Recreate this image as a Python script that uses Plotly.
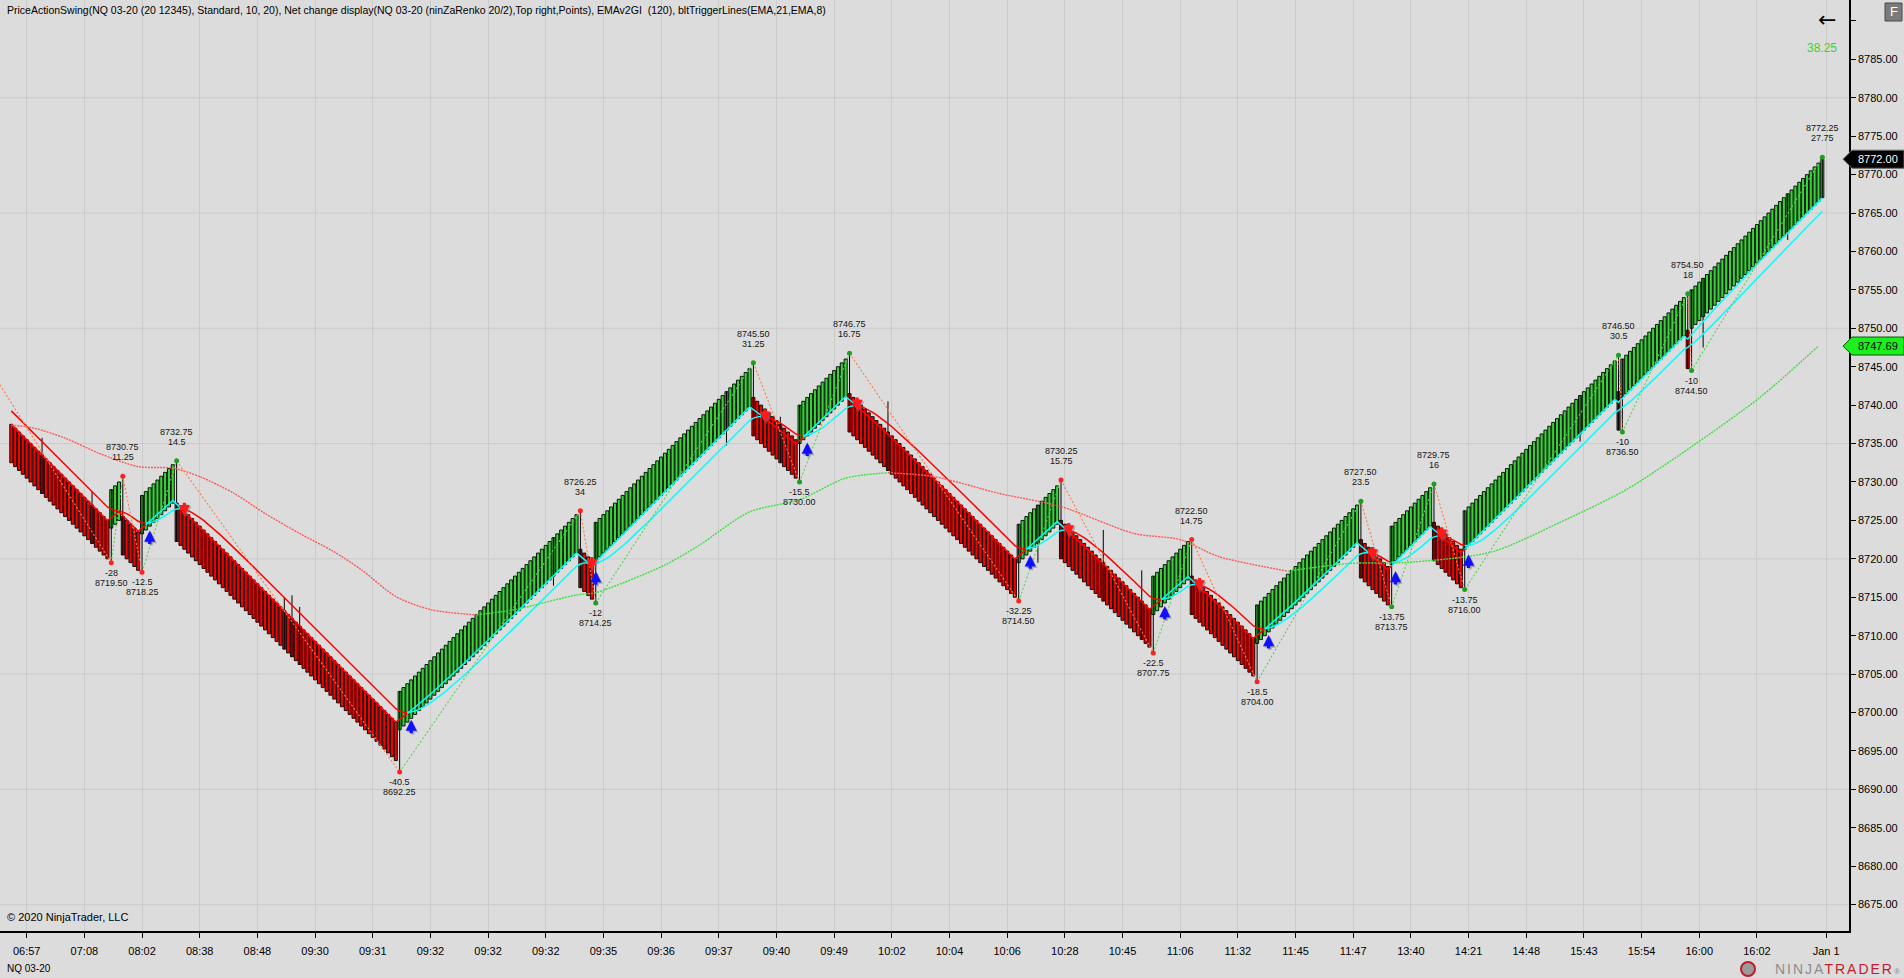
import plotly.graph_objects as go

# ninZaRenko 20/2 on NQ: brick body is 20 ticks (5 points), trend bars step 2 ticks
brick = 5.0

bar_close = [
    # down leg from the session start
    8732.5, 8732.0, 8731.5, 8731.0, 8730.5, 8730.0, 8729.5, 8729.0, 8728.5, 8728.0,
    8727.5, 8727.0, 8726.5, 8726.0, 8725.5, 8725.0, 8724.5, 8724.0, 8723.5, 8723.0,
    8722.5, 8722.0, 8721.5, 8721.0, 8720.5, 8720.0,
    8729.0, 8729.5, 8730.0,
    8720.5, 8720.0, 8719.5, 8719.0, 8718.5,
    8728.25, 8728.75, 8729.25, 8729.75, 8730.25, 8730.75, 8731.25, 8731.75, 8732.25,
    # long slide to 8692.25
    8722.25, 8721.75, 8721.25, 8720.75, 8720.25, 8719.75, 8719.25, 8718.75, 8718.25, 8717.75,
    8717.25, 8716.75, 8716.25, 8715.75, 8715.25, 8714.75, 8714.25, 8713.75, 8713.25, 8712.75,
    8712.25, 8711.75, 8711.25, 8710.75, 8710.25, 8709.75, 8709.25, 8708.75, 8708.25, 8707.75,
    8707.25, 8706.75, 8706.25, 8705.75, 8705.25, 8704.75, 8704.25, 8703.75, 8703.25, 8702.75,
    8702.25, 8701.75, 8701.25, 8700.75, 8700.25, 8699.75, 8699.25, 8698.75, 8698.25, 8697.75,
    8697.25, 8696.75, 8696.25, 8695.75, 8695.25, 8694.75, 8694.25, 8693.75,
    # rally to 8726.25
    8702.75, 8703.25, 8703.75, 8704.25, 8704.75, 8705.25, 8705.75, 8706.25, 8706.75, 8707.25,
    8707.75, 8708.25, 8708.75, 8709.25, 8709.75, 8710.25, 8710.75, 8711.25, 8711.75, 8712.25,
    8712.75, 8713.25, 8713.75, 8714.25, 8714.75, 8715.25, 8715.75, 8716.25, 8716.75, 8717.25,
    8717.75, 8718.25, 8718.75, 8719.25, 8719.75, 8720.25, 8720.75, 8721.25, 8721.75, 8722.25,
    8722.75, 8723.25, 8723.75, 8724.25, 8724.75, 8725.25, 8725.75,
    8716.25, 8715.75, 8715.25, 8714.75,
    # rally to 8745.50
    8724.75, 8725.25, 8725.75, 8726.25, 8726.75, 8727.25, 8727.75, 8728.25, 8728.75, 8729.25,
    8729.75, 8730.25, 8730.75, 8731.25, 8731.75, 8732.25, 8732.75, 8733.25, 8733.75, 8734.25,
    8734.75, 8735.25, 8735.75, 8736.25, 8736.75, 8737.25, 8737.75, 8738.25, 8738.75, 8739.25,
    8739.75, 8740.25, 8740.75, 8741.25, 8741.75, 8742.25, 8742.75, 8743.25, 8743.75, 8744.25,
    8744.75,
    8736.0, 8735.5, 8735.0, 8734.5, 8734.0, 8733.5, 8733.0, 8732.5, 8732.0, 8731.5,
    8731.0, 8730.5,
    8740.0, 8740.5, 8741.0, 8741.5, 8742.0, 8742.5, 8743.0, 8743.5, 8744.0, 8744.5,
    8745.0, 8745.5, 8746.0,
    # slide to 8714.50
    8736.5, 8736.0, 8735.5, 8735.0, 8734.5, 8734.0, 8733.5, 8733.0, 8732.5, 8732.0,
    8731.5, 8731.0, 8730.5, 8730.0, 8729.5, 8729.0, 8728.5, 8728.0, 8727.5, 8727.0,
    8726.5, 8726.0, 8725.5, 8725.0, 8724.5, 8724.0, 8723.5, 8723.0, 8722.5, 8722.0,
    8721.5, 8721.0, 8720.5, 8720.0, 8719.5, 8719.0, 8718.5, 8718.0, 8717.5, 8717.0,
    8716.5, 8716.0, 8715.5, 8715.0,
    8724.5, 8725.0, 8725.5, 8726.0, 8726.5, 8727.0, 8727.5, 8728.0, 8728.5, 8729.0,
    8729.5,
    8720.0, 8719.5, 8719.0, 8718.5, 8718.0, 8717.5, 8717.0, 8716.5, 8716.0, 8715.5,
    8715.0, 8714.5, 8714.0, 8713.5, 8713.0, 8712.5, 8712.0, 8711.5, 8711.0, 8710.5,
    8710.0, 8709.5, 8709.0, 8708.5,
    8717.75, 8718.25, 8718.75, 8719.25, 8719.75, 8720.25, 8720.75, 8721.25, 8721.75, 8722.25,
    8712.75, 8712.25, 8711.75, 8711.25, 8710.75, 8710.25, 8709.75, 8709.25, 8708.75, 8708.25,
    8707.75, 8707.25, 8706.75, 8706.25, 8705.75, 8705.25, 8704.75,
    # rally to 8727.50
    8714.0, 8714.5, 8715.0, 8715.5, 8716.0, 8716.5, 8717.0, 8717.5, 8718.0, 8718.5,
    8719.0, 8719.5, 8720.0, 8720.5, 8721.0, 8721.5, 8722.0, 8722.5, 8723.0, 8723.5,
    8724.0, 8724.5, 8725.0, 8725.5, 8726.0, 8726.5, 8727.0,
    8717.5, 8717.0, 8716.5, 8716.0, 8715.5, 8715.0, 8714.5, 8714.0,
    8724.25, 8724.75, 8725.25, 8725.75, 8726.25, 8726.75, 8727.25, 8727.75, 8728.25, 8728.75,
    8729.25,
    8719.75, 8719.25, 8718.75, 8718.25, 8717.75, 8717.25, 8716.75, 8716.25,
    # afternoon rally
    8726.25, 8726.75, 8727.25, 8727.75, 8728.25, 8728.75, 8729.25, 8729.75, 8730.25, 8730.75,
    8731.25, 8731.75, 8732.25, 8732.75, 8733.25, 8733.75, 8734.25, 8734.75, 8735.25, 8735.75,
    8736.25, 8736.75, 8737.25, 8737.75, 8738.25, 8738.75, 8739.25, 8739.75, 8740.25, 8740.75,
    8741.25, 8741.75, 8742.25, 8742.75, 8743.25, 8743.75, 8744.25, 8744.75, 8745.25, 8745.75,
    8736.75,
    8746.0, 8746.5, 8747.0, 8747.5, 8748.0, 8748.5, 8749.0, 8749.5, 8750.0, 8750.5,
    8751.0, 8751.5, 8752.0, 8752.5, 8753.0, 8753.5, 8754.0,
    8744.75,
    8755.0, 8755.5, 8756.0, 8756.5, 8757.0, 8757.5, 8758.0, 8758.5, 8759.0, 8759.5,
    8760.0, 8760.5, 8761.0, 8761.5, 8762.0, 8762.5, 8763.0, 8763.5, 8764.0, 8764.5,
    8765.0, 8765.5, 8766.0, 8766.5, 8767.0, 8767.5, 8768.0, 8768.5, 8769.0, 8769.5,
    8770.0, 8770.5, 8771.0, 8771.5, 8772.0,
]

# extra wicks poking out of a body
wick_bars = [8, 21, 71, 73, 75, 141, 186, 200, 228, 267, 284, 294, 408, 440, 462]
wick_prices = [8735.75, 8728.75, 8715.0, 8715.25, 8713.75, 8716.5, 8734.75, 8738.5,
               8740.5, 8719.5, 8723.75, 8718.5, 8735.25, 8747.5, 8761.5]

# PriceActionSwing points
swing_bars = [26, 29, 34, 43, 101, 148, 152, 193, 205, 218, 262, 273,
              297, 307, 324, 351, 359, 370, 378, 418, 419, 436, 437, 471]
swing_prices = [8719.50, 8730.75, 8718.25, 8732.75, 8692.25, 8726.25, 8714.25, 8745.50,
                8730.00, 8746.75, 8714.50, 8730.25, 8707.75, 8722.50, 8704.00, 8727.50,
                8713.75, 8729.75, 8716.00, 8746.50, 8736.50, 8754.50, 8744.50, 8772.25]
swing_moves = [-28, 11.25, -12.5, 14.5, -40.5, 34, -12, 31.25, -15.5, 16.75, -32.25, 15.75,
               -22.5, 14.75, -18.5, 23.5, -13.75, 16, -13.75, 30.5, -10, 18, -10, 27.75]
prev_swing_bar = -9
prev_swing_price = 8747.50

# EMAv2GI (120)
slow_bars = [0, 6, 14, 23, 33, 42, 49, 58, 66, 75, 84, 91, 100, 109, 121, 131, 147, 152, 170,
             179, 192, 205, 217, 228, 240, 257, 273, 292, 304, 314, 332, 348, 362, 385, 403,
             420, 437, 455, 470]
slow_values = [8737.4, 8737.0, 8735.7, 8733.7, 8732.0, 8731.8, 8730.7, 8728.5, 8725.9, 8723.3,
               8720.9, 8718.6, 8715.1, 8713.4, 8712.7, 8713.4, 8715.3, 8715.6, 8719.2, 8721.8,
               8726.1, 8727.7, 8730.5, 8731.2, 8730.7, 8728.5, 8726.8, 8723.3, 8722.5, 8720.3,
               8718.4, 8719.4, 8719.5, 8720.9, 8724.8, 8729.0, 8734.6, 8741.1, 8747.69]

# bltTriggerLines values at the first bar (EMA21, EMA8 of it)
trigger_seed = (8737.5, 8739.25)

net_change = 38.25

time_tick_bars = [4, 19, 34, 49, 64, 79, 94, 109, 124, 139, 154, 169, 184, 199, 214, 229,
                  244, 259, 274, 289, 304, 319, 334, 349, 364, 379, 394, 409, 424, 439, 454, 472]
time_tick_text = ["06:57", "07:08", "08:02", "08:38", "08:48", "09:30", "09:31", "09:32",
                  "09:32", "09:32", "09:35", "09:36", "09:37", "09:40", "09:49", "10:02",
                  "10:04", "10:06", "10:28", "10:45", "11:06", "11:32", "11:45", "11:47",
                  "13:40", "14:21", "14:48", "15:43", "15:54", "16:00", "16:02", "Jan 1"]

price_ticks = [8675 + 5 * k for k in range(23)]   # labelled 8675 .. 8785
top_tick = 8790                                     # tick mark only, label hidden
grid_prices = [8675, 8690, 8705, 8720, 8735, 8750, 8765, 8780]

FONT = "Liberation Sans, Arial, sans-serif"
BG = "#dcdcdc"
GRID = "#cbcbcb"
UP_COL = "#36d436"
DN_COL = "#f40000"
CYAN = "#00ffff"
RED = "#ff0000"

y_min, y_max = 8671.57, 8792.72
x_min, x_max = -2.94, 477.94

n = len(bar_close)
up = [False] + [bar_close[i] > bar_close[i - 1] for i in range(1, n)]
bar_open = [c - brick if u else c + brick for c, u in zip(bar_close, up)]
bar_high = [max(o, c) for o, c in zip(bar_open, bar_close)]
bar_low = [min(o, c) for o, c in zip(bar_open, bar_close)]
for b, p in zip(wick_bars + swing_bars, wick_prices + swing_prices):
    if p > bar_high[b]:
        bar_high[b] = p
    elif p < bar_low[b]:
        bar_low[b] = p

fig = go.Figure()

# wicks
wx, wy = [], []
for i in range(n):
    if bar_high[i] > max(bar_open[i], bar_close[i]) or bar_low[i] < min(bar_open[i], bar_close[i]):
        wx += [i, i, None]
        wy += [bar_low[i], bar_high[i], None]
fig.add_trace(go.Scatter(x=wx, y=wy, mode="lines", line=dict(color="black", width=1)))

# renko bricks
for is_up, col in ((True, UP_COL), (False, DN_COL)):
    idx = [i for i in range(n) if up[i] == is_up]
    fig.add_trace(go.Bar(
        x=idx, y=[brick] * len(idx), base=[min(bar_open[i], bar_close[i]) for i in idx],
        width=0.8, marker=dict(color=col, line=dict(color="black", width=0.9)),
    ))

# trigger lines
a21, a8 = 2 / 22, 2 / 9
ema_a, ema_b = [trigger_seed[0]], [trigger_seed[1]]
for c in bar_close[1:]:
    ema_a.append(ema_a[-1] + a21 * (c - ema_a[-1]))
    ema_b.append(ema_b[-1] + a8 * (ema_a[-1] - ema_b[-1]))
state = [a > b for a, b in zip(ema_a, ema_b)]
runs = []
start = 0
for i in range(1, n + 1):
    if i == n or state[i] != state[start]:
        runs.append((start, i - 1, state[start]))
        start = i
for s, e, st in runs:
    xs = list(range(max(s - 1, 0), e + 1))
    for line in (ema_b, ema_a):
        fig.add_trace(go.Scatter(x=xs, y=[line[i] for i in xs], mode="lines",
                                 line=dict(color=CYAN if st else RED, width=1.5)))

# slow EMA, red while falling, green while rising
seg_start = 0
m = len(slow_bars)
rising = [slow_values[k + 1] > slow_values[k] for k in range(m - 1)]
for k in range(1, m):
    if k == m - 1 or rising[k] != rising[seg_start]:
        xs = slow_bars[seg_start:k + 1]
        ys = slow_values[seg_start:k + 1]
        fig.add_trace(go.Scatter(x=xs, y=ys, mode="lines",
                                 line=dict(color="#3fe03f" if rising[seg_start] else "#ff5a5a",
                                           width=1.4, dash="2px,1px", shape="spline", smoothing=0.8)))
        seg_start = k

# swing zigzag
zz_bars = [prev_swing_bar] + swing_bars
zz_prices = [prev_swing_price] + swing_prices
dn_x, dn_y, up_x, up_y = [], [], [], []
for k in range(len(zz_bars) - 1):
    if zz_prices[k + 1] < zz_prices[k]:
        dn_x += [zz_bars[k], zz_bars[k + 1], None]
        dn_y += [zz_prices[k], zz_prices[k + 1], None]
    else:
        up_x += [zz_bars[k], zz_bars[k + 1], None]
        up_y += [zz_prices[k], zz_prices[k + 1], None]
fig.add_trace(go.Scatter(x=dn_x, y=dn_y, mode="lines", line=dict(color="#ff7a45", width=1.1, dash="2px,2px")))
fig.add_trace(go.Scatter(x=up_x, y=up_y, mode="lines", line=dict(color="#55d455", width=1.1, dash="2px,2px")))

# swing dots: green for higher highs / higher lows
last_high, last_low = prev_swing_price, None
dot_cols = []
annotations = []
for k, (b, p, mv) in enumerate(zip(swing_bars, swing_prices, swing_moves)):
    is_high = p > zz_prices[k]
    if is_high:
        dot_cols.append("#1f9e1f" if p > last_high else "#ff2020")
        last_high = p
        lines = [(f"{p:.2f}", 29), (f"{mv:g}", 19)]
    else:
        dot_cols.append("#1f9e1f" if (last_low is not None and p > last_low) else "#ff2020")
        last_low = p
        lines = [(f"{mv:g}", -10), (f"{p:.2f}", -20)]
    for txt, shift in lines:
        annotations.append(dict(x=b, y=p, text=txt, showarrow=False, yshift=shift,
                                xanchor="center", yanchor="middle",
                                font=dict(family=FONT, size=9, color="#151515")))
fig.add_trace(go.Scatter(x=swing_bars, y=swing_prices, mode="markers",
                         marker=dict(color=dot_cols, size=5, line=dict(width=0))))

# trigger-line cross arrows
for s, e, st in runs[1:]:
    if st:
        tip, ay, col = ema_a[s] - 1.2, 15, "#1010ff"
    else:
        tip, ay, col = ema_a[s] - 0.6, -15, "#ff1a1a"
    for shadow in (True, False):
        annotations.append(dict(
            x=s, y=tip, ax=0, ay=ay, text="", showarrow=True,
            arrowhead=2, arrowsize=0.7, arrowwidth=3.2,
            arrowcolor="rgba(120,120,130,0.5)" if shadow else col,
            xshift=1.5 if shadow else 0, yshift=-1.5 if shadow else 0,
        ))

px_w, px_h = 1849.0, 931.0

def px_x(px):
    return px / px_w

def px_y(py):
    return (px_h - py) / px_h

annotations += [
    dict(xref="paper", yref="paper", x=px_x(5), y=px_y(10), xanchor="left", yanchor="middle",
         showarrow=False, font=dict(family=FONT, size=10.5, color="black"),
         text="PriceActionSwing(NQ 03-20 (20 12345), Standard, 10, 20), Net change display(NQ 03-20 "
              "(ninZaRenko 20/2),Top right,Points), EMAv2GI  (120), bltTriggerLines(EMA,21,EMA,8)"),
    dict(xref="paper", yref="paper", x=px_x(5), y=px_y(917), xanchor="left", yanchor="middle",
         showarrow=False, font=dict(family=FONT, size=11, color="black"),
         text="© 2020 NinjaTrader, LLC"),
    dict(xref="paper", yref="paper", x=px_x(5), y=px_y(968), xanchor="left", yanchor="middle",
         showarrow=False, font=dict(family=FONT, size=10, color="black"), text="NQ 03-20"),
    dict(xref="paper", yref="paper", x=px_x(1902), y=px_y(969), xanchor="right", yanchor="middle",
         showarrow=False, font=dict(family=FONT, size=14, color="#8c8c8c"),
         text='<span style="letter-spacing:2px">NINJA</span>'
              '<span style="color:#c41a2a;letter-spacing:2px">TRADER</span>'
              '<span style="font-size:8px">®</span>'),
    dict(xref="paper", yref="paper", x=px_x(1827), y=px_y(20), xanchor="center", yanchor="middle",
         showarrow=False, font=dict(family="DejaVu Sans", size=22, color="black"), text="←"),
    dict(xref="paper", yref="paper", x=px_x(1822), y=px_y(48), xanchor="center", yanchor="middle",
         showarrow=False, font=dict(family=FONT, size=12, color="#33d633"), text=f"{net_change:.2f}"),
    dict(xref="paper", yref="paper", x=px_x(1893.5), y=px_y(12), xanchor="center", yanchor="middle",
         showarrow=False, font=dict(family=FONT, size=13, color="white"), text="F"),
    dict(xref="paper", yref="y", x=px_x(1878), y=bar_close[-1], xanchor="center", yanchor="middle",
         showarrow=False, font=dict(family=FONT, size=11, color="white"), text=f"{bar_close[-1]:.2f}"),
    dict(xref="paper", yref="y", x=px_x(1878), y=slow_values[-1], xanchor="center", yanchor="middle",
         showarrow=False, font=dict(family=FONT, size=11, color="black"), text=f"{slow_values[-1]:.2f}"),
]

shapes = [dict(type="line", xref="paper", yref="y", x0=0, x1=1, y0=g, y1=g,
               line=dict(color=GRID, width=1), layer="below") for g in grid_prices]

half = 9 / 7.685
for val, fill, edge in ((bar_close[-1], "black", "#666666"), (slow_values[-1], "#1cf01c", "#145214")):
    shapes.append(dict(
        type="path", xref="paper", yref="y", fillcolor=fill, line=dict(color=edge, width=1),
        path=(f"M {px_x(1843)},{val} L {px_x(1852)},{val + half} L {px_x(1904)},{val + half} "
              f"L {px_x(1904)},{val - half} L {px_x(1852)},{val - half} Z"),
    ))
shapes.append(dict(type="rect", xref="paper", yref="paper", x0=px_x(1885), x1=px_x(1902),
                   y0=px_y(21), y1=px_y(3), fillcolor="#7b7b7b", line=dict(color="#4a4a4a", width=1)))
shapes.append(dict(type="circle", xref="paper", yref="paper", x0=px_x(1741), x1=px_x(1755),
                   y0=px_y(976), y1=px_y(962), fillcolor="#9a9a9a", line=dict(color="#c41a2a", width=2)))

fig.update_layout(
    width=1904, height=978,
    margin=dict(l=0, r=55, t=0, b=47),
    paper_bgcolor=BG, plot_bgcolor=BG,
    showlegend=False, hovermode=False, dragmode=False,
    barmode="overlay",
    font=dict(family=FONT, size=11, color="black"),
    annotations=annotations, shapes=shapes,
)
fig.update_xaxes(
    range=[x_min, x_max], tickmode="array", tickvals=time_tick_bars, ticktext=time_tick_text,
    showgrid=True, gridcolor=GRID, gridwidth=1, zeroline=False,
    showline=True, linecolor="black", linewidth=1.5,
    ticks="outside", ticklen=5, tickcolor="black", ticklabelstandoff=4,
    tickfont=dict(family=FONT, size=11, color="black"), fixedrange=True,
)
fig.update_yaxes(
    range=[y_min, y_max], side="right", tickmode="array",
    tickvals=price_ticks + [top_tick], ticktext=[f"{v:.2f}" for v in price_ticks] + [""],
    showgrid=False, zeroline=False, showline=True, linecolor="black", linewidth=1.5,
    ticks="outside", ticklen=5, tickcolor="black",
    tickfont=dict(family=FONT, size=11, color="black"), fixedrange=True,
)

fig.write_html("out.html", config={"displayModeBar": False},
               post_script="document.body.style.margin='0';document.body.style.overflow='hidden';")
